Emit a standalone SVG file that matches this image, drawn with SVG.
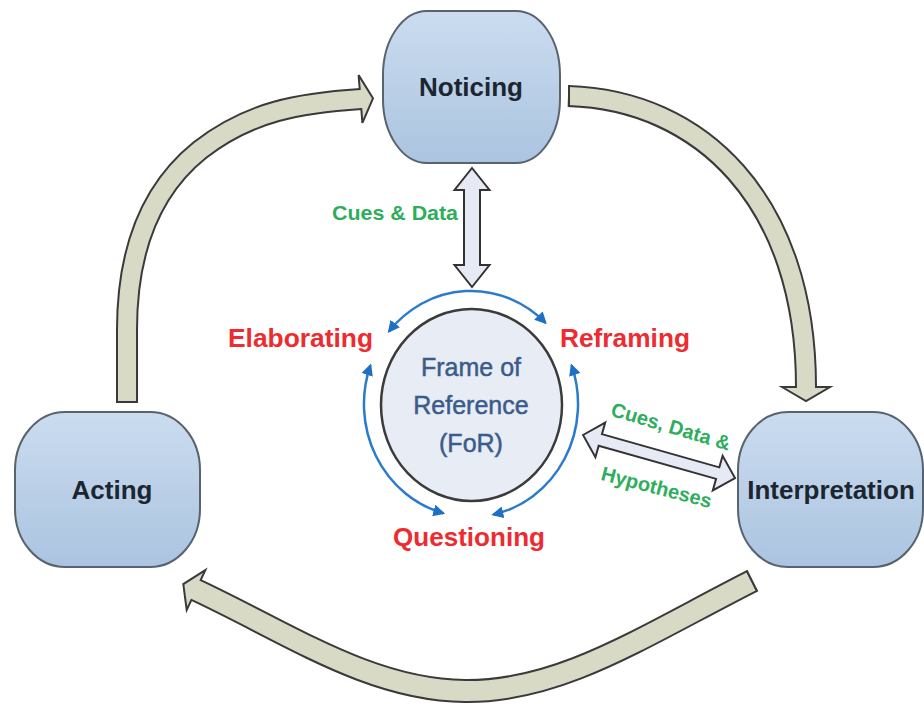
<svg xmlns="http://www.w3.org/2000/svg" width="924" height="705" viewBox="0 0 924 705">
  <defs>
    <linearGradient id="nodeGrad" x1="0" y1="0" x2="0" y2="1">
      <stop offset="0" stop-color="#cbdcef"/>
      <stop offset="1" stop-color="#abc4e0"/>
    </linearGradient>
    <marker id="blueHead" viewBox="0 0 12 12" refX="10" refY="6" markerWidth="12" markerHeight="12" markerUnits="userSpaceOnUse" orient="auto-start-reverse">
      <path d="M0,0 L12,6 L0,12 z" fill="#1f6fc4"/>
    </marker>
  </defs>
  <style>
    .node { fill: url(#nodeGrad); stroke: #58636e; stroke-width: 2; }
    .nodeText { font-family: "Liberation Sans", Arial, sans-serif; font-weight: bold; font-size: 26px; fill: #1b2631; text-anchor: middle; }
    .outer { fill: none; stroke: #3a3a3a; }
    .inner { fill: none; stroke: #d8dac6; }
    .head { fill: #d8dac6; stroke: #3a3a3a; stroke-width: 2; stroke-linejoin: miter; }
    .tail { stroke: #3a3a3a; stroke-width: 2; }
    .dbl { fill: #e6eaf4; stroke: #333333; stroke-width: 2; stroke-linejoin: miter; }
    .blueArc { fill: none; stroke: #2a7bcc; stroke-width: 2.5; marker-start: url(#blueHead); marker-end: url(#blueHead); }
    .red { font-family: "Liberation Sans", Arial, sans-serif; font-weight: bold; font-size: 26px; fill: #ee2b30; }
    .green { font-family: "Liberation Sans", Arial, sans-serif; font-weight: bold; font-size: 20px; fill: #2eae5c; }
    .forText { font-family: "Liberation Sans", Arial, sans-serif; font-size: 25px; fill: #3b5b8b; stroke: #3b5b8b; stroke-width: 0.5; text-anchor: middle; }
  </style>

  <g id="connectors">
    <!-- Acting to Noticing -->
    <g id="arrow-acting-noticing">
      <path class="outer" stroke-width="22" d="M127,403 L127,330 C127,250 150,190 200,150 C250,111 300,103 361,99 l2,-0.13"/>
      <polygon class="head" points="358.6,75.1 373,98.3 362.4,122.9"/>
      <path class="inner" stroke-width="18" d="M127,402 L127,330 C127,250 150,190 200,150 C250,111 300,103 361,99 l2,-0.13"/>
      <line class="tail" x1="116" y1="402" x2="138" y2="402"/>
    </g>
    <!-- Noticing to Interpretation -->
    <g id="arrow-noticing-interpretation">
      <path class="outer" stroke-width="22" d="M568,96 C700,100 806,200 806,387 l0,2"/>
      <polygon class="head" points="782,387 806,401 830,387"/>
      <path class="inner" stroke-width="18" d="M569,96 C700,100 806,200 806,387 l0,2"/>
      <line class="tail" x1="569" y1="85" x2="569" y2="107"/>
    </g>
    <!-- Interpretation to Acting -->
    <g id="arrow-interpretation-acting">
      <path class="outer" stroke-width="24" d="M752,581 C640,638 560,692 465,691 C370,690 290,634 196,590 l-1.8,-0.85"/>
      <polygon class="head" points="205.3,570.1 183.3,584.1 186.7,609.9"/>
      <path class="inner" stroke-width="20" d="M751.1,581.5 C640,638 560,692 465,691 C370,690 290,634 196,590 l-1.8,-0.85"/>
      <line class="tail" x1="746.6" y1="570.3" x2="757.4" y2="591.7"/>
    </g>
    <!-- Noticing <-> FoR -->
    <polygon id="arrow-noticing-for" class="dbl" points="472,168 489.5,190 480,190 480,265 489.5,265 472,287 454.5,265 464,265 464,190 454.5,190"/>
    <!-- FoR <-> Interpretation -->
    <polygon id="arrow-for-interpretation" class="dbl" transform="translate(583,435) rotate(15.8)" points="0,0 18,-18 18,-6 140,-6 140,-18 158,0 140,18 140,6 18,6 18,18"/>
    <!-- blue cycle arcs -->
    <path class="blueArc" d="M389,331.4 A107,113 0 0 1 545.4,322.7"/>
    <path class="blueArc" d="M443.3,513.2 A107,113 0 0 1 370.4,365.4"/>
    <path class="blueArc" d="M571.6,365.4 A107,113 0 0 1 493.3,514.5"/>
  </g>

  <g id="noticing">
    <rect class="node" x="383" y="11" width="177" height="152" rx="44" ry="64"/>
    <text class="nodeText" x="471" y="96">Noticing</text>
  </g>
  <g id="interpretation">
    <rect class="node" x="738" y="412" width="185" height="155" rx="50" ry="58"/>
    <text class="nodeText" x="831" y="499">Interpretation</text>
  </g>
  <g id="acting">
    <rect class="node" x="15" y="412" width="185" height="155" rx="50" ry="58"/>
    <text class="nodeText" x="112" y="499">Acting</text>
  </g>
  <g id="frame-of-reference">
    <ellipse cx="471.5" cy="405" rx="90.5" ry="96" fill="#e8edf5" stroke="#3b3b3b" stroke-width="2.5"/>
    <text class="forText" x="471" y="376">Frame of</text>
    <text class="forText" x="471" y="414">Reference</text>
    <text class="forText" x="471" y="452">(FoR)</text>
  </g>

  <g id="labels">
    <text class="red" x="228" y="347" textLength="145" lengthAdjust="spacingAndGlyphs">Elaborating</text>
    <text class="red" x="560" y="347" textLength="130" lengthAdjust="spacingAndGlyphs">Reframing</text>
    <text class="red" x="393" y="546" textLength="152" lengthAdjust="spacingAndGlyphs">Questioning</text>
    <text class="green" x="332" y="220" textLength="126" lengthAdjust="spacingAndGlyphs">Cues &amp; Data</text>
    <text class="green" text-anchor="middle" transform="translate(669,433) rotate(16.5)" font-size="21">Cues, Data &amp;</text>
    <text class="green" text-anchor="middle" transform="translate(655,494) rotate(14.5)" font-size="21">Hypotheses</text>
  </g>
</svg>
